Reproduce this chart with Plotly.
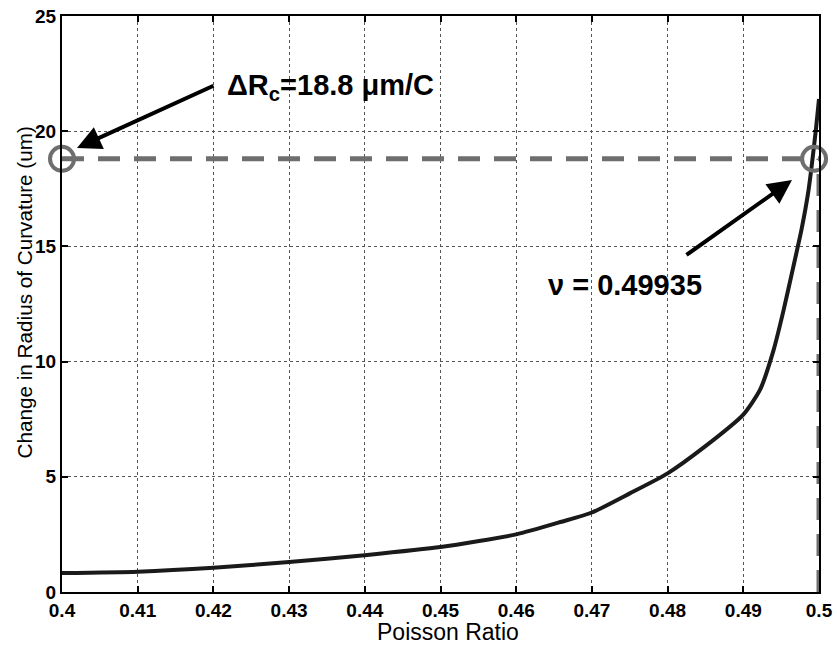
import plotly.graph_objects as go

# Curve data
poisson = [0.400, 0.410, 0.420, 0.430, 0.440, 0.450, 0.460, 0.466, 0.470, 0.475,
           0.480, 0.485, 0.490, 0.4922, 0.4940, 0.4953, 0.4966, 0.4977,
           0.4986, 0.4990, 0.4996, 0.5000]
delta_rc = [0.82, 0.88, 1.05, 1.30, 1.60, 1.95, 2.50, 3.05, 3.45, 4.28,
            5.15, 6.33, 7.70, 8.77, 10.50, 12.20, 14.10, 15.75,
            17.40, 18.40, 20.10, 21.40]

# Marked point
nu_mark = 0.49935
rc_mark = 18.8
x_range = [0.4, 0.5]
y_range = [0, 25]
x_ticks = [0.4, 0.41, 0.42, 0.43, 0.44, 0.45, 0.46, 0.47, 0.48, 0.49, 0.5]
x_ticklabels = ["0.4", "0.41", "0.42", "0.43", "0.44", "0.45", "0.46", "0.47", "0.48", "0.49", "0.5"]
y_ticks = [0, 5, 10, 15, 20, 25]

FONT = "Liberation Sans, Arial, sans-serif"
GREY = "#6e6e6e"

fig = go.Figure()

# horizontal dashed line
fig.add_trace(go.Scatter(x=x_range, y=[rc_mark, rc_mark], mode="lines",
                         line=dict(color=GREY, width=5, dash="22px,14px"),
                         cliponaxis=False, hoverinfo="skip", showlegend=False))
# vertical dashed line
fig.add_trace(go.Scatter(x=[x_range[1], x_range[1]], y=[0, rc_mark], mode="lines",
                         line=dict(color=GREY, width=5, dash="22px,14px"),
                         cliponaxis=False, hoverinfo="skip", showlegend=False))
# main curve
fig.add_trace(go.Scatter(x=poisson, y=delta_rc, mode="lines",
                         line=dict(color="#1a1a1a", width=4, shape="spline", smoothing=0.6),
                         cliponaxis=False, showlegend=False))
# circles
fig.add_trace(go.Scatter(x=[x_range[0], nu_mark], y=[rc_mark, rc_mark], mode="markers",
                         marker=dict(symbol="circle-open", size=24, color=GREY,
                                     line=dict(color=GREY, width=4)),
                         cliponaxis=False, showlegend=False))

axis_common = dict(showline=True, linecolor="black", linewidth=2, mirror="ticks",
                   ticks="inside", ticklen=6, tickwidth=2, tickcolor="black",
                   showgrid=True, gridcolor="#555555", gridwidth=1, griddash="dot",
                   zeroline=False, automargin=False, ticklabeloverflow="allow",
                   tickfont=dict(family=FONT, size=19, color="black", weight="bold"))

fig.update_xaxes(range=x_range, tickvals=x_ticks, ticktext=x_ticklabels, **axis_common)
fig.update_yaxes(range=y_range, tickvals=y_ticks, **axis_common)

annots = [
    # left arrow
    dict(x=0.40198, y=19.27, xref="x", yref="y", text="", showarrow=True,
         ax=138, ay=-63, arrowhead=2, arrowsize=1.2, arrowwidth=4, arrowcolor="black"),
    # right arrow
    dict(x=0.49643, y=17.88, xref="x", yref="y", text="", showarrow=True,
         ax=-107, ay=76, arrowhead=2, arrowsize=1.2, arrowwidth=4, arrowcolor="black"),
    dict(x=0.42153, y=21.9, xref="x", yref="y", xanchor="left", yanchor="middle",
         text="<b>ΔR<sub>c</sub>=18.8 μm/C</b>", showarrow=False,
         font=dict(family=FONT, size=29, color="black")),
    dict(x=0.46394, y=13.32, xref="x", yref="y", xanchor="left", yanchor="middle",
         text="<b>ν = 0.49935</b>", showarrow=False,
         font=dict(family=FONT, size=29, color="black")),
    # axis titles
    dict(x=0.51, y=-0.0694, xref="paper", yref="paper", xanchor="center", yanchor="middle",
         text="Poisson Ratio", showarrow=False,
         font=dict(family=FONT, size=23, color="black")),
    dict(x=-0.0502, y=0.52, xref="paper", yref="paper", xanchor="center", yanchor="middle",
         text="Change in Radius of Curvature (um)", showarrow=False, textangle=-90,
         font=dict(family=FONT, size=20.7, color="black")),
]

fig.update_layout(width=837, height=646, autosize=False,
                  margin=dict(l=62, r=18, t=16, b=54),
                  paper_bgcolor="white", plot_bgcolor="white",
                  annotations=annots, showlegend=False)

# remove the default 8 px page margin so the figure fills the window exactly
fig.write_html("out.html", config={"displayModeBar": False},
               post_script="document.body.style.margin='0';")
